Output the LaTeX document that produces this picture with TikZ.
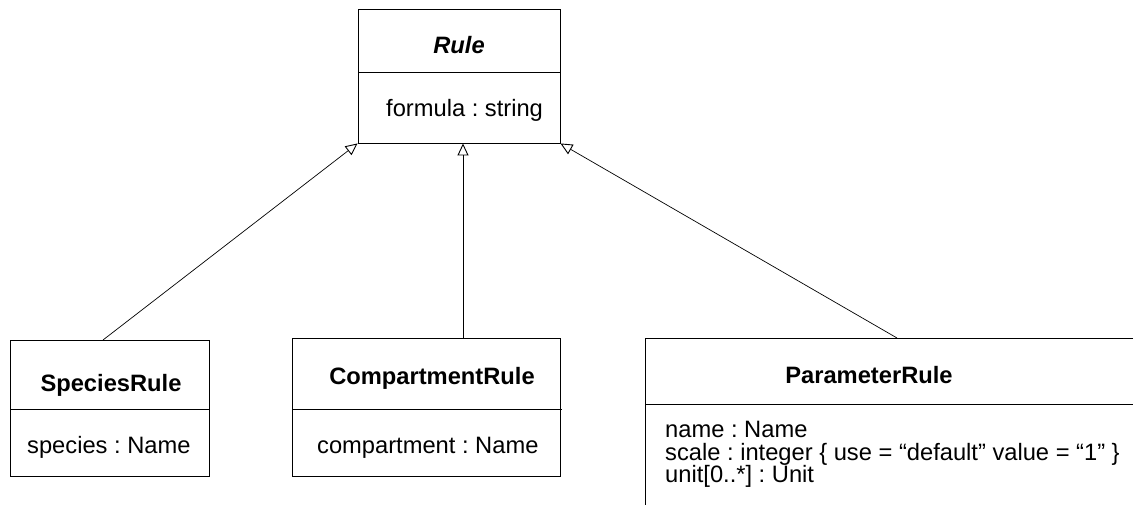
\documentclass[tikz,border=0pt]{standalone}
\usepackage{fontspec}
\setmainfont{Liberation Sans}
\usetikzlibrary{arrows.meta}
\begin{document}
\frenchspacing
\begin{tikzpicture}[x=1pt,y=-1pt,
  box/.style={draw, line width=0.9pt, rectangle, inner sep=0pt},
  lbl/.style={inner sep=0pt, font=\fontsize{23.7}{28}\selectfont},
  title/.style={lbl, anchor=base, font=\fontsize{23.7}{28}\selectfont\bfseries},
  attr/.style={lbl, anchor=base west},
  gen/.style={draw, line width=0.7pt, -{Triangle[open, length=12pt, width=11pt, line width=0.9pt]}},
  sep/.style={draw, line width=0.9pt}]
\useasboundingbox (0,0) rectangle (1135,505);
% Rule
\node[box, minimum width=202pt, minimum height=134pt] (rule) at (459,76) {};
\draw[sep] (358,72) -- (560,72);
\node[title, font=\fontsize{23.7}{28}\selectfont\bfseries\itshape] (ruleT) at (459,54) {Rule};
\node[attr] (ruleA) at (386,117) {formula : string};
% SpeciesRule
\node[box, minimum width=199pt, minimum height=136pt] (sp) at (109.5,408) {};
\draw[sep] (10,409) -- (209,409);
\node[title] (spT) at (111,391) {SpeciesRule};
\node[attr] (spA) at (27,453) {species : Name};
% CompartmentRule
\node[box, minimum width=268pt, minimum height=138pt] (cp) at (426,407) {};
\draw[sep] (292,409) -- (562,409);
\node[title] (cpT) at (432,384) {CompartmentRule};
\node[attr] (cpA) at (317,453) {compartment : Name};
% ParameterRule (open on right and bottom)
\coordinate (pmTL) at (645,338);
\draw[sep] (1133,338) -- (pmTL) -- (645,505);
\draw[sep] (645,404) -- (1133,404);
\node[title] (pmT) at (869,383) {ParameterRule};
\node[attr] (pmA1) at (665,437) {name : Name};
\node[attr] (pmA2) at (665,460) {scale : integer \{ use = “default” value = “1” \}};
\node[attr] (pmA3) at (665,482) {unit[0..*] : Unit};
% Generalisations
\coordinate (spTop) at (103,340);
\coordinate (cpTop) at (463,338);
\coordinate (pmTop) at (897,338);
\draw[gen] (spTop) -- (rule.south west);
\draw[gen] (cpTop) -- (rule.south -| cpTop);
\draw[gen] (pmTop) -- (rule.south east);
\end{tikzpicture}
\end{document}
